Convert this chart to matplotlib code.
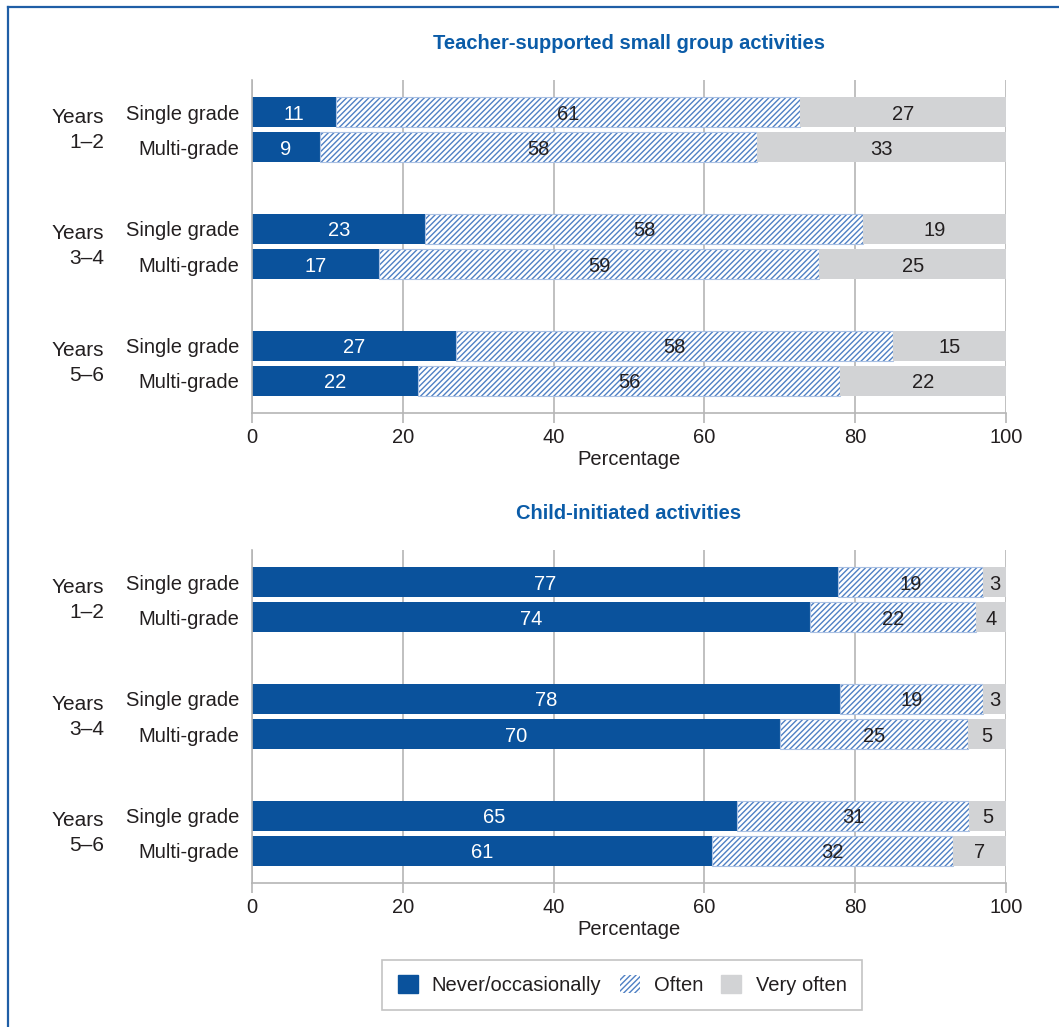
import matplotlib
matplotlib.use('Agg')
import matplotlib.pyplot as plt
from matplotlib.lines import Line2D
from matplotlib.patches import Patch
import numpy as np

plt.rcParams['font.family'] = ['Liberation Sans Narrow', 'Liberation Sans', 'DejaVu Sans']
plt.rcParams['hatch.linewidth'] = 1.0

# data
years = ['Years\n1\u20132', 'Years\n3\u20134', 'Years\n5\u20136']
grades = ['Single grade', 'Multi-grade']
series = ['Never/occasionally', 'Often', 'Very often']

# teacher-supported small group activities (single, multi per year group)
tsg_never = [11, 9, 23, 17, 27, 22]
tsg_often = [61, 58, 58, 59, 58, 56]
tsg_very = [27, 33, 19, 25, 15, 22]

# child-initiated activities
ci_never = [77, 74, 78, 70, 65, 61]
ci_often = [19, 22, 19, 25, 31, 32]
ci_very = [3, 4, 3, 5, 5, 7]

titles = ['Teacher-supported small group activities', 'Child-initiated activities']
xticks = [0, 20, 40, 60, 80, 100]

DARK = '#0a529c'
HATCH = '#4f80c4'
GREY = '#d2d3d5'
TXT = '#231f20'
TITLE = '#0b5ca8'
FS = 14.5

W, H = 1059, 1027
fig = plt.figure(figsize=(W / 100, H / 100), dpi=100)

def px(x0, y0, x1, y1):
    return [x0 / W, 1 - y1 / H, (x1 - x0) / W, (y1 - y0) / H]

ax_top = fig.add_axes(px(252, 80, 1006, 413))
ax_bot = fig.add_axes(px(252, 550, 1006, 883))

pitch = 35.0
gap = 116.5 / pitch
pos = []
for g in range(3):
    pos += [g * gap, g * gap + 1]
pos = np.array(pos)

def draw(ax, never, often, very, title):
    never = np.array(never, float)
    often = np.array(often, float)
    very = np.array(very, float)
    tot = never + often + very
    n = never / tot * 100
    o = often / tot * 100
    v = very / tot * 100
    ax.barh(pos, n, height=30 / pitch, color=DARK, zorder=2)
    ax.barh(pos, o, left=n, height=30 / pitch, color='white', hatch='//////',
            edgecolor=HATCH, linewidth=0, zorder=2)
    ax.barh(pos, o, left=n, height=30 / pitch, fill=False, edgecolor='#a9c0e3',
            linewidth=0.8, zorder=2)
    ax.barh(pos, v, left=n + o, height=30 / pitch, color=GREY, zorder=2)
    for i, y in enumerate(pos):
        ax.text(n[i] / 2, y, f'{int(never[i])}', ha='center', va='center_baseline',
                color='white', fontsize=FS, zorder=3)
        ax.text(n[i] + o[i] / 2, y, f'{int(often[i])}', ha='center', va='center_baseline',
                color=TXT, fontsize=FS, zorder=3)
        ax.text(n[i] + o[i] + v[i] / 2, y, f'{int(very[i])}', ha='center',
                va='center_baseline', color=TXT, fontsize=FS, zorder=3)

    ax.set_xlim(0, 100)
    ax.set_ylim(pos[-1] + 32 / pitch, pos[0] - 32 / pitch)
    ax.set_xticks(xticks)
    ax.set_xticklabels([str(t) for t in xticks], fontsize=FS, color=TXT)
    ax.tick_params(axis='x', length=7, color='#b5b5b5', width=1.2, pad=4)
    ax.set_yticks(pos)
    ax.set_yticklabels(grades * 3, fontsize=FS, color=TXT)
    ax.tick_params(axis='y', length=0, pad=9)
    ax.grid(axis='x', color='#b5b5b5', linewidth=1.2, zorder=0)
    ax.set_axisbelow(True)
    for s in ['top', 'right']:
        ax.spines[s].set_visible(False)
    for s in ['left', 'bottom']:
        ax.spines[s].set_color('#b5b5b5')
        ax.spines[s].set_linewidth(1.2)
    ax.set_xlabel('Percentage', fontsize=FS, color=TXT, labelpad=2)
    ax.set_title(title, fontsize=FS, fontweight='bold', color=TITLE, pad=22)
    for g, lab in enumerate(years):
        ax.text(-148 / 7.54, (pos[2 * g] + pos[2 * g + 1]) / 2, lab, ha='right',
                va='center', multialignment='right', fontsize=FS + 0.5, color=TXT,
                linespacing=1.4, transform=ax.transData, clip_on=False)

draw(ax_top, tsg_never, tsg_often, tsg_very, titles[0])
draw(ax_bot, ci_never, ci_often, ci_very, titles[1])

handles = [Patch(facecolor=DARK, edgecolor=DARK),
           Patch(facecolor='white', edgecolor=HATCH, hatch='//////', linewidth=0),
           Patch(facecolor=GREY, edgecolor=GREY)]
leg = fig.legend(handles, series, loc='center', bbox_to_anchor=(622 / W, 1 - 985 / H),
                 ncol=3, fontsize=FS, frameon=True, fancybox=False, handlelength=1.0,
                 handleheight=1.0, handletextpad=0.7, columnspacing=0.9,
                 borderpad=0.75, borderaxespad=0, labelcolor=TXT)
leg.get_frame().set_edgecolor('#b5b5b5')
leg.get_frame().set_linewidth(1.2)

# blue frame on left and top edge
fig.add_artist(Line2D([8 / W, 8 / W], [0, 1 - 7 / H], color='#1f5ea6', linewidth=1.6))
fig.add_artist(Line2D([8 / W, 1], [1 - 7 / H, 1 - 7 / H], color='#1f5ea6', linewidth=1.6))

fig.savefig('out.png', dpi=100)
